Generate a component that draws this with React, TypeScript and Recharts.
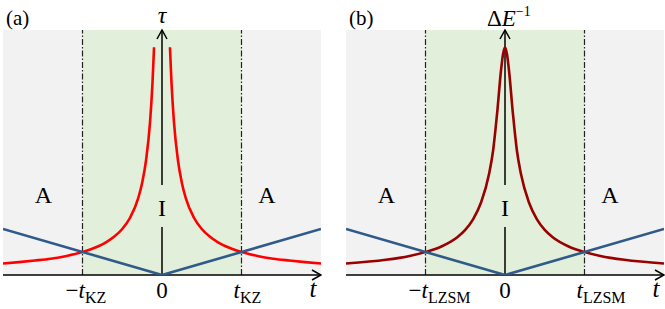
import React from 'react';
import { LineChart, Line, XAxis, YAxis, ReferenceArea, ReferenceLine, ReferenceDot } from 'recharts';

// ---- shared axes / regions (t in units of the crossover time, y in units of curve value at crossover)
const T_MIN = -2;
const T_MAX = 2;
const Y_MAX = 10.65;
const crossTimes = [-1, 1];
const tickValues = [-1, 0, 1];
const axisGap = [2.09, 3.91];
const labelA = { left: -1.49, right: 1.32, y: 3.48 };
const labelIy = 2.93;

// ---- panel (a): tau
const tauLeftT = [-2, -1.8, -1.6, -1.4, -1.2, -1, -0.8, -0.7, -0.6, -0.5, -0.4, -0.3, -0.25, -0.2, -0.15, -0.12, -0.1];
const tauLeftV = [0.5, 0.56, 0.63, 0.71, 0.83, 1, 1.25, 1.43, 1.67, 2, 2.5, 3.33, 4, 5, 6.67, 8.33, 9.9];
const tauRightT = [0.1, 0.12, 0.15, 0.2, 0.25, 0.3, 0.4, 0.5, 0.6, 0.7, 0.8, 1, 1.2, 1.4, 1.6, 1.8, 2];
const tauRightV = [9.9, 8.33, 6.67, 5, 4, 3.33, 2.5, 2, 1.67, 1.43, 1.25, 1, 0.83, 0.71, 0.63, 0.56, 0.5];

// ---- panel (b): inverse gap
const gapT = [-2, -1.5, -1.2, -1, -0.8, -0.6, -0.5, -0.4, -0.3, -0.2, -0.15, -0.1, -0.05, -0.025, 0, 0.025, 0.05, 0.1, 0.15, 0.2, 0.3, 0.4, 0.5, 0.6, 0.8, 1, 1.2, 1.5, 2];
const gapV = [0.5, 0.66, 0.83, 1.0, 1.24, 1.64, 1.96, 2.43, 3.16, 4.4, 5.4, 7.0, 8.9, 9.6, 9.9, 9.6, 8.9, 7.0, 5.4, 4.4, 3.16, 2.43, 1.96, 1.64, 1.24, 1.0, 0.83, 0.66, 0.5];

// ---- time-scale line |t|
const linT = [-2, 0, 2];
const linV = [2, 0, 2];

const SERIF = '"Liberation Serif", "Times New Roman", serif';
const zip = (ts: number[], vs: number[]) => ts.map((t, i) => ({ t, v: vs[i] }));

const tauLeft = zip(tauLeftT, tauLeftV);
const tauRight = zip(tauRightT, tauRightV);
const gapData = zip(gapT, gapV);
const linData = zip(linT, linV);

const makeTick = (sub: string) => (props: any) => {
  const { x, y, payload } = props;
  const v = payload.value;
  const by = y + 23;
  if (v === 0) {
    return (
      <text x={x} y={by} textAnchor="middle" fontFamily={SERIF} fontSize={23} fill="#000">0</text>
    );
  }
  const neg = v < 0;
  return (
    <text x={x + (neg ? -17 : -8)} y={by} fontFamily={SERIF} fontSize={23} fill="#000">
      {neg ? '\u2212' : ''}
      <tspan fontStyle="italic">t</tspan>
      <tspan fontSize={16} dy={5}>{sub}</tspan>
    </text>
  );
};

type PanelProps = {
  tag: string;
  sub: string;
  yLabel: 'tau' | 'gap';
  curves: { t: number; v: number }[][];
  curveColor: string;
};

function Panel({ tag, sub, yLabel, curves, curveColor }: PanelProps) {
  return (
    <LineChart width={322} height={309} margin={{ top: 30, right: 1, bottom: 4, left: 3 }}>
      <XAxis
        type="number"
        dataKey="t"
        domain={[T_MIN, T_MAX]}
        ticks={tickValues}
        tick={makeTick(sub)}
        tickLine={false}
        tickSize={0}
        tickMargin={0}
        axisLine={false}
        height={30}
        allowDataOverflow
      />
      <YAxis type="number" domain={[0, Y_MAX]} hide allowDataOverflow />
      <ReferenceArea x1={T_MIN} x2={T_MAX} y1={0} y2={Y_MAX} fill="#f2f2f2" fillOpacity={1} stroke="none" />
      <ReferenceArea x1={crossTimes[0]} x2={crossTimes[1]} y1={0} y2={Y_MAX} fill="#e2efda" fillOpacity={1} stroke="none" />
      {crossTimes.map((c) => (
        <ReferenceLine key={c} x={c} stroke="#222" strokeWidth={1.2} strokeDasharray="6 2 1.5 2" />
      ))}
      <ReferenceLine y={0} stroke="#000" strokeWidth={1.5} />
      <ReferenceLine segment={[{ x: 0, y: 0 }, { x: 0, y: axisGap[0] }]} stroke="#000" strokeWidth={1.5} />
      <ReferenceLine segment={[{ x: 0, y: axisGap[1] }, { x: 0, y: Y_MAX }]} stroke="#000" strokeWidth={1.5} />
      {curves.map((d, i) => (
        <Line
          key={i}
          data={d}
          dataKey="v"
          type="monotone"
          stroke={curveColor}
          strokeWidth={2.6}
          dot={false}
          isAnimationActive={false}
        />
      ))}
      <Line data={linData} dataKey="v" type="linear" stroke="#2f5a8a" strokeWidth={2.6} dot={false} isAnimationActive={false} />
      <ReferenceDot
        x={labelA.left}
        y={labelA.y}
        r={0}
        ifOverflow="visible"
        shape={(p: any) => (
          <text x={p.cx} y={p.cy + 8} textAnchor="middle" fontFamily={SERIF} fontSize={24} fill="#000">A</text>
        )}
      />
      <ReferenceDot
        x={labelA.right}
        y={labelA.y}
        r={0}
        ifOverflow="visible"
        shape={(p: any) => (
          <text x={p.cx} y={p.cy + 8} textAnchor="middle" fontFamily={SERIF} fontSize={24} fill="#000">A</text>
        )}
      />
      <ReferenceDot
        x={0}
        y={labelIy}
        r={0}
        ifOverflow="visible"
        shape={(p: any) => (
          <text x={p.cx} y={p.cy + 8} textAnchor="middle" fontFamily={SERIF} fontSize={24} fill="#000">I</text>
        )}
      />
      <ReferenceDot
        x={T_MAX}
        y={0}
        r={0}
        ifOverflow="visible"
        shape={(p: any) => (
          <g>
            <path d={`M${p.cx - 9},${p.cy - 5} L${p.cx},${p.cy} L${p.cx - 9},${p.cy + 5}`} fill="none" stroke="#000" strokeWidth={1.5} />
            <text x={p.cx - 8} y={p.cy + 22} textAnchor="middle" fontFamily={SERIF} fontStyle="italic" fontSize={25} fill="#000">t</text>
          </g>
        )}
      />
      <ReferenceDot
        x={0}
        y={Y_MAX}
        r={0}
        ifOverflow="visible"
        shape={(p: any) => (
          <g>
            <path d={`M${p.cx - 5},${p.cy + 9} L${p.cx},${p.cy} L${p.cx + 5},${p.cy + 9}`} fill="none" stroke="#000" strokeWidth={1.5} />
            {yLabel === 'tau' ? (
              <text x={p.cx} y={p.cy - 7} textAnchor="middle" fontFamily={SERIF} fontStyle="italic" fontSize={24} fill="#000">τ</text>
            ) : (
              <text x={p.cx - 18} y={p.cy - 4} fontFamily={SERIF} fontSize={23} fill="#000">
                Δ<tspan fontStyle="italic">E</tspan>
                <tspan fontSize={14} dy={-10}>{'\u22121'}</tspan>
              </text>
            )}
          </g>
        )}
      />
      <ReferenceDot
        x={T_MIN}
        y={Y_MAX}
        r={0}
        ifOverflow="visible"
        shape={(p: any) => (
          <text x={p.cx + 3} y={p.cy - 5} fontFamily={SERIF} fontSize={21} fill="#000">{tag}</text>
        )}
      />
    </LineChart>
  );
}

export default function App() {
  return (
    <div style={{ position: 'absolute', left: 0, top: 0, width: 665, height: 309, background: '#fff', overflow: 'hidden' }}>
      <div style={{ position: 'absolute', left: 0, top: 0 }}>
        <Panel tag="(a)" sub="KZ" yLabel="tau" curves={[tauLeft, tauRight]} curveColor="#ff0000" />
      </div>
      <div style={{ position: 'absolute', left: 343, top: 0 }}>
        <Panel tag="(b)" sub="LZSM" yLabel="gap" curves={[gapData]} curveColor="#990000" />
      </div>
    </div>
  );
}
